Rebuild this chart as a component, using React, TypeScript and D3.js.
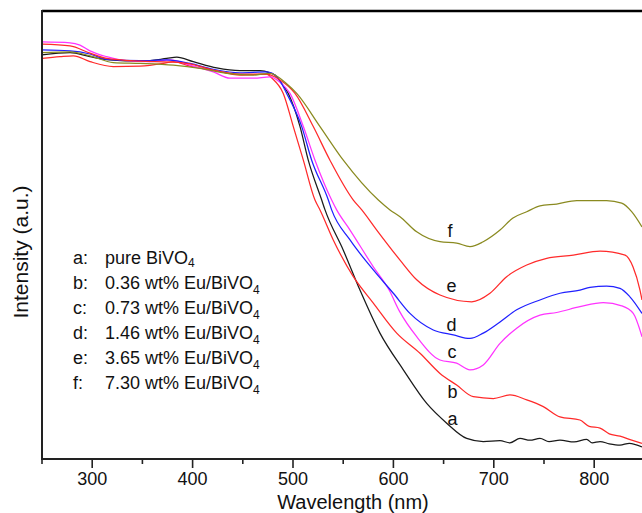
import React from "react";
import * as d3 from "d3";

// ---- data (wavelength nm, intensity a.u.) ----
const curveA: [number, number][] = [
  [250, 90.2], [277.9, 90.7], [297.8, 89.8], [317.7, 89.1], [347.6, 88.8], [374.2, 89.4], [384.2, 89.7],
  [400.7, 88.7], [424.0, 87.3], [447.2, 86.7], [467.1, 86.7], [477.1, 86.2], [482.1, 85.7], [488, 84.0],
  [495.3, 81.6], [507, 74.2], [515.2, 66.7], [528.6, 57.8], [531.9, 55.6], [550.1, 46.6], [566.7, 37.7],
  [586.6, 28.1], [609.9, 19.9], [633.2, 12.4], [653.1, 8.0], [673.0, 4.6], [689.5, 3.9], [706.2, 4.1],
  [716, 3.6], [726.1, 4.6], [736, 4.2], [746.0, 4.6], [755, 3.9], [765.9, 4.2], [780, 3.8], [792.5, 4.4],
  [798, 3.6], [805.8, 3.9], [815, 3.4], [825.7, 3.1], [835, 3.5], [847.6, 2.7],
];
const curveB: [number, number][] = [
  [250, 89.4], [267.9, 89.8], [281.2, 90.0], [297.8, 88.7], [321.0, 87.6], [347.6, 87.7], [370.8, 88.3],
  [380.8, 88.7], [397.4, 87.7], [420.6, 86.8], [447.2, 85.7], [473.8, 85.9], [479.1, 85.0], [490.3, 81.6],
  [500.3, 74.2], [510.3, 66.7], [521.9, 57.8], [526.9, 55.6], [540.1, 48.9], [560.1, 40.7], [580.0, 34.8],
  [603.3, 28.1], [626.5, 23.6], [646.4, 19.1], [663.0, 16.5], [679.6, 13.9], [699.5, 13.5], [716.1, 14.3],
  [732.8, 13.2], [749.3, 11.7], [765.9, 9.4], [785.8, 8.7], [795, 7.3], [805.8, 6.9], [815, 5.6],
  [825.7, 5.1], [835, 4.4], [847.6, 3.5],
];
const curveC: [number, number][] = [
  [250, 93.1], [277.9, 92.9], [287.8, 92.4], [297.8, 91.1], [314.4, 89.8], [334.4, 88.9], [357.6, 88.7],
  [377.5, 89.1], [397.4, 87.9], [420.6, 86.4], [437.2, 85.0], [460.5, 85.0], [477.1, 85.3], [487.0, 84.1],
  [497.0, 81.6], [510.3, 74.2], [521.9, 66.7], [538.5, 57.8], [543.5, 55.6], [556.8, 51.1], [580.0, 42.9],
  [596, 37.6], [606, 33.0], [623.2, 27.3], [646.4, 22.1], [663.0, 21.4], [676.3, 19.9], [689.5, 21.0],
  [706.2, 25.8], [722.8, 29.2], [746.0, 32.1], [762.6, 32.7], [785.8, 34.0], [809.1, 34.9], [827.4, 34.2],
  [838.9, 32.5], [847.6, 27.3],
];
const curveD: [number, number][] = [
  [250, 91.3], [277.9, 91.1], [297.8, 90.4], [314.4, 89.2], [347.6, 88.9], [374.2, 89.1], [397.4, 88.3],
  [420.6, 87.0], [447.2, 86.2], [473.8, 86.4], [485.1, 85.0], [493.7, 81.6], [508.7, 74.2], [518.6, 66.7],
  [535.2, 57.8], [538.5, 55.6], [556.8, 48.9], [580.0, 42.2], [599.9, 37.0], [616.5, 32.5], [639.7, 28.8],
  [659.7, 27.7], [676.3, 26.9], [689.5, 28.1], [706.2, 30.6], [722.8, 33.3], [746.0, 35.5], [765.9, 37.0],
  [785.8, 37.7], [795.8, 38.3], [812.4, 38.6], [825.7, 38.1], [835.6, 36.2], [847.6, 32.5],
];
const curveE: [number, number][] = [
  [250, 92.6], [277.9, 92.2], [297.8, 90.6], [314.4, 89.4], [347.6, 88.8], [377.5, 88.6], [397.4, 88.2],
  [420.6, 86.8], [447.2, 85.9], [473.8, 85.9], [487.0, 84.6], [502.0, 81.6], [520.2, 74.2], [536.8, 66.7],
  [560.1, 57.8], [568.5, 55.6], [583.4, 51.1], [606.6, 44.4], [623.2, 40.0], [646.4, 36.6], [678.0, 35.1],
  [696.2, 37.0], [712.8, 40.7], [732.8, 43.3], [752.7, 44.8], [779.2, 45.5], [805.8, 46.4], [830.7, 45.5],
  [838.6, 42.9], [845.6, 37.7], [847.6, 35.5],
];
const curveF: [number, number][] = [
  [250, 90.7], [277.9, 90.9], [297.8, 90.0], [321.0, 88.5], [347.6, 88.3], [380.8, 87.9], [407.4, 87.2],
  [434.0, 86.1], [460.5, 85.7], [477.1, 86.1], [487.0, 85.0], [492.0, 84.1], [503.7, 81.6], [526.9, 74.2],
  [550.1, 66.7], [585.0, 57.8], [596.6, 55.6], [606.6, 54.1], [623.2, 50.7], [646.4, 48.5], [663.0, 48.2],
  [676.3, 47.4], [689.5, 48.5], [706.2, 51.1], [719.1, 53.8], [732.8, 55.2], [746.0, 56.5], [762.6, 56.9],
  [782.6, 57.7], [798.8, 57.7], [812.4, 57.7], [827.4, 57.1], [837.3, 55.2], [847.6, 51.8],
];

const seriesKeys = ["a", "b", "c", "d", "e", "f"];
const seriesData = [curveA, curveB, curveC, curveD, curveE, curveF];
const seriesColors = ["#1a1a1a", "#ff2a2a", "#ff33ff", "#2020ff", "#ff2a2a", "#8a8a20"];
const legendNames = ["pure BiVO", "0.36 wt% Eu/BiVO", "0.73 wt% Eu/BiVO", "1.46 wt% Eu/BiVO", "3.65 wt% Eu/BiVO", "7.30 wt% Eu/BiVO"];
// curve label anchor points (wavelength, intensity)
const curveLabelPos: [number, number][] = [
  [654, 7.5], [654, 13.6], [654, 22.5], [653, 28.6], [653, 37.2], [654, 49.5],
];
const majorTicks = [300, 400, 500, 600, 700, 800];
const minorTicks = [250, 350, 450, 550, 650, 750, 850];

const W = 642;
const H = 513;
const left = 42;
const top = 11;
const bottom = 459;

export default function App() {
  const x = d3.scaleLinear().domain([250, 850]).range([left, left + 600 * 1.004]);
  const y = d3.scaleLinear().domain([0, 100]).range([bottom, top]);
  const line = d3
    .line<[number, number]>()
    .x((d) => x(d[0]))
    .y((d) => y(d[1]))
    .curve(d3.curveMonotoneX);

  const font = "Arial, 'Liberation Sans', Helvetica, sans-serif";

  return (
    <svg
      width={W}
      height={H}
      viewBox={`0 0 ${W} ${H}`}
      style={{ position: "absolute", left: 0, top: 0, background: "#fff" }}
      fontFamily={font}
    >
      <rect x={0} y={0} width={W} height={H} fill="#fff" />
      {seriesData.map((d, i) => (
        <path key={seriesKeys[i]} d={line(d) || ""} fill="none" stroke={seriesColors[i]} strokeWidth={1.25} />
      ))}

      {/* axes frame */}
      <line x1={left} x2={W} y1={top} y2={top} stroke="#000" strokeWidth={2.5} />
      <line x1={left} x2={left} y1={top - 1} y2={bottom + 1} stroke="#222" strokeWidth={2} />
      <line x1={left - 1} x2={W} y1={bottom} y2={bottom} stroke="#222" strokeWidth={2} />

      {majorTicks.map((t) => (
        <g key={"M" + t}>
          <line x1={x(t)} x2={x(t)} y1={bottom} y2={bottom + 9} stroke="#222" strokeWidth={1.6} />
          <text x={x(t)} y={485} textAnchor="middle" fontSize={18} fill="#111">
            {t}
          </text>
        </g>
      ))}
      {minorTicks.map((t) => (
        <line key={"m" + t} x1={x(t)} x2={x(t)} y1={bottom} y2={bottom + 5} stroke="#222" strokeWidth={1.6} />
      ))}

      <text x={353} y={509} textAnchor="middle" fontSize={20} fill="#111">
        Wavelength (nm)
      </text>
      <text
        transform="translate(28,252) rotate(-90)"
        textAnchor="middle"
        fontSize={21}
        fill="#111"
      >
        Intensity (a.u.)
      </text>

      {/* legend */}
      {legendNames.map((name, i) => (
        <g key={"lg" + i}>
          <text x={73} y={264 + i * 25} fontSize={18} fill="#111">
            {seriesKeys[i]}:
          </text>
          <text x={105} y={264 + i * 25} fontSize={18} fill="#111">
            {name}
            <tspan fontSize={12} dy={i === 0 ? 3 : 5}>4</tspan>
          </text>
        </g>
      ))}

      {/* curve labels */}
      {curveLabelPos.map((p, i) => (
        <text key={"cl" + i} x={x(p[0])} y={y(p[1])} fontSize={18} fill="#111">
          {seriesKeys[i]}
        </text>
      ))}
    </svg>
  );
}
